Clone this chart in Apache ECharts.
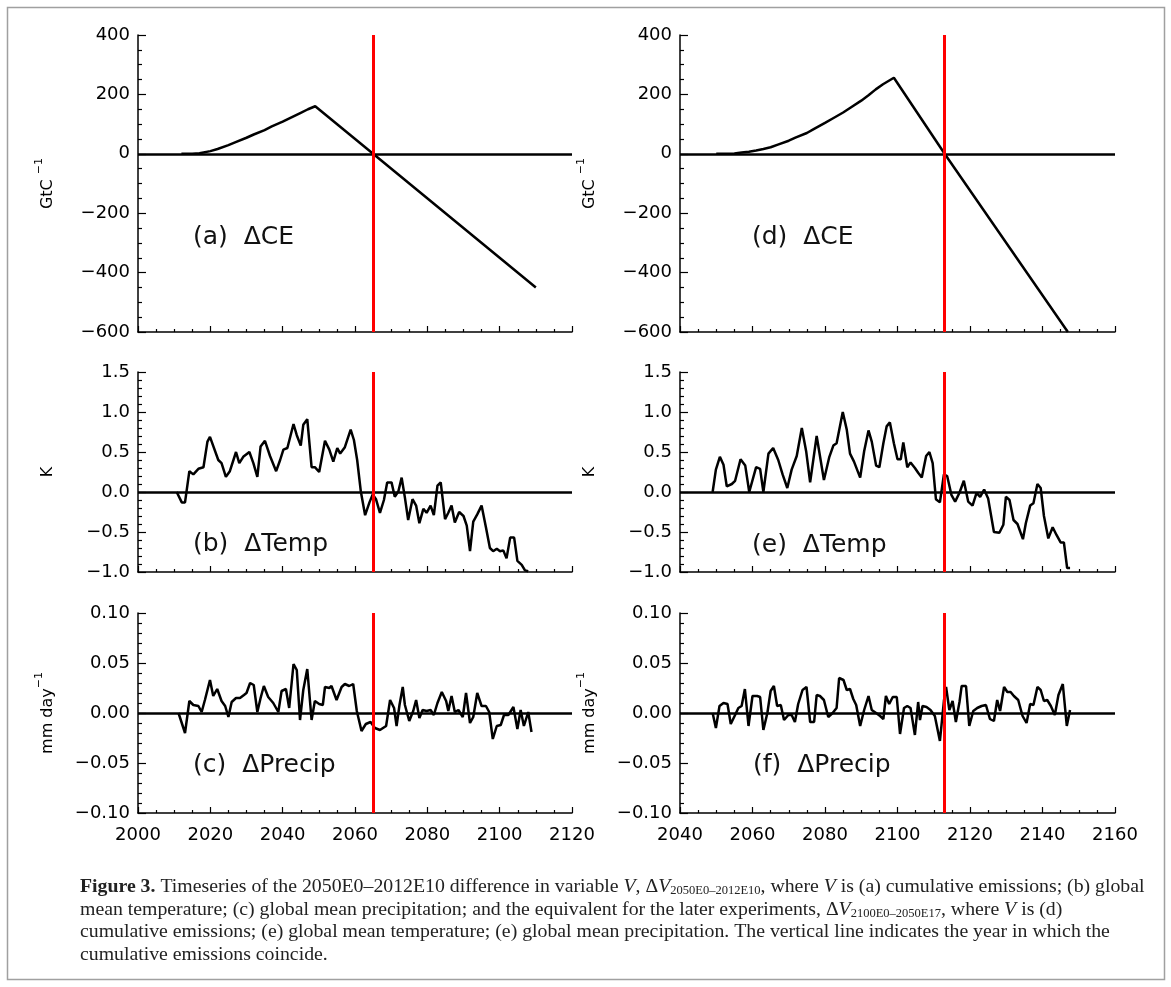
<!DOCTYPE html>
<html><head><meta charset="utf-8">
<script src="https://cdn.jsdelivr.net/npm/echarts@6/dist/echarts.min.js"></script>
<style>html,body{margin:0;padding:0;background:#fff}#c{width:1171px;height:987px}</style>
</head><body><div id="c"></div><script>
// ---- data ----
const ceA = [[2012,0],[2015,0],[2017,2],[2020,9],[2022,16],[2025,29],[2027,39],[2030,54],[2032,65],[2035,80],[2037,92],[2040,108],[2042,120],[2045,138],[2047,150],[2049,160],[2065,0],[2110,-450]];
const ceD = [[2050,0],[2053,0],[2055,1],[2057,4],[2059,7],[2061,11],[2063,16],[2065,22],[2067,31],[2070,44],[2072,55],[2075,70],[2077,84],[2080,104],[2082,118],[2085,139],[2087,155],[2090,179],[2092,197],[2094,217],[2096,234],[2099,256],[2113,0],[2147,-600]];
const tempB = [[2010.7,0],[2012.1,-0.13],[2013,-0.13],[2014.2,0.26],[2015.3,0.22],[2016.7,0.29],[2018.1,0.31],[2019.2,0.63],[2019.9,0.69],[2022.2,0.40],[2023.1,0.36],[2024.3,0.19],[2025.4,0.26],[2027.1,0.50],[2028,0.36],[2029.1,0.44],[2030.8,0.50],[2031.9,0.36],[2033,0.19],[2033.9,0.57],[2035.1,0.64],[2036.5,0.45],[2038.2,0.26],[2039.3,0.40],[2040.2,0.53],[2041.3,0.55],[2043,0.85],[2043.9,0.71],[2045,0.58],[2045.7,0.84],[2046.8,0.91],[2048,0.31],[2048.9,0.31],[2050.1,0.25],[2051.7,0.64],[2052.9,0.53],[2054,0.38],[2055.1,0.55],[2055.9,0.48],[2057.2,0.56],[2058.8,0.78],[2059.7,0.65],[2060.6,0.40],[2061.6,0.01],[2062.8,-0.29],[2064,-0.13],[2064.9,-0.03],[2065.8,-0.09],[2066.9,-0.26],[2068,-0.10],[2068.9,0.12],[2070.1,0.12],[2071,-0.06],[2072,0.01],[2072.9,0.18],[2073.8,-0.07],[2074.7,-0.35],[2075.9,-0.09],[2076.9,-0.17],[2077.8,-0.39],[2078.9,-0.21],[2079.8,-0.26],[2080.9,-0.17],[2081.8,-0.29],[2082.8,0.08],[2083.7,0.12],[2084.9,-0.34],[2085.8,-0.26],[2086.7,-0.17],[2087.6,-0.38],[2088.8,-0.25],[2090,-0.30],[2090.9,-0.42],[2091.8,-0.74],[2092.7,-0.37],[2093.8,-0.28],[2095,-0.17],[2096.2,-0.44],[2097.3,-0.70],[2098.2,-0.74],[2099.2,-0.71],[2100.1,-0.74],[2101,-0.73],[2101.9,-0.83],[2102.9,-0.57],[2104,-0.57],[2104.9,-0.86],[2106.1,-0.91],[2107,-0.98],[2107.9,-0.99]];
const precipC = [[2011.2,0],[2013,-0.020],[2014.2,0.012],[2015.3,0.008],[2016.7,0.007],[2017.6,0.001],[2018.5,0.013],[2019.9,0.033],[2020.8,0.017],[2021.9,0.024],[2023.1,0.012],[2024.1,0.007],[2025,-0.004],[2025.9,0.011],[2027.1,0.015],[2028.2,0.015],[2029.3,0.018],[2030,0.020],[2031,0.030],[2032,0.028],[2033,0.001],[2033.9,0.015],[2034.8,0.027],[2036,0.016],[2037.4,0.010],[2038.8,0.001],[2039.7,0.022],[2040.9,0.024],[2041.8,0.005],[2043,0.049],[2043.9,0.043],[2044.8,-0.007],[2045.7,0.023],[2046.8,0.044],[2048,-0.007],[2048.9,0.012],[2050.1,0.009],[2051.1,0.008],[2051.7,0.026],[2052.9,0.025],[2053.5,0.027],[2054.9,0.013],[2056.3,0.026],[2057.2,0.029],[2058.4,0.027],[2059.5,0.029],[2060.5,0.002],[2061.8,-0.018],[2063,-0.011],[2064.3,-0.009],[2065.5,-0.015],[2066.9,-0.017],[2068.6,-0.013],[2069.7,0.013],[2070.8,0.005],[2071.5,-0.013],[2072.3,0.008],[2073.2,0.026],[2073.8,0.008],[2075,-0.008],[2076.1,0.002],[2076.9,0.013],[2077.8,-0.005],[2078.7,0.003],[2079.8,0.002],[2080.9,0.003],[2081.8,-0.002],[2082.8,0.010],[2084,0.021],[2085.2,0.012],[2085.8,0.002],[2086.7,0.017],[2087.6,0.001],[2088.6,0.003],[2089.8,-0.004],[2090.7,0.020],[2091.8,-0.010],[2092.7,-0.004],[2093.8,0.020],[2095,0.007],[2096.2,0.007],[2097.1,0.001],[2098.1,-0.026],[2099.2,-0.013],[2100.3,-0.012],[2101.2,-0.002],[2102.4,-0.002],[2103.8,0.006],[2104.9,-0.016],[2105.8,0.003],[2106.7,-0.013],[2107.9,0.001],[2108.8,-0.019]];
const tempE = [[2049,0],[2049.9,0.28],[2051,0.44],[2052,0.34],[2052.9,0.07],[2054.3,0.10],[2055.2,0.14],[2056.7,0.41],[2058,0.33],[2059.1,0.0],[2061,0.31],[2062.1,0.29],[2063,0.0],[2064.4,0.48],[2065.7,0.55],[2067.1,0.40],[2068.3,0.22],[2069.6,0.05],[2070.8,0.28],[2072.2,0.45],[2073.6,0.80],[2074.8,0.51],[2075.9,0.12],[2077.7,0.70],[2079.7,0.15],[2081.2,0.44],[2082.3,0.58],[2083.2,0.61],[2084.9,1.00],[2086,0.78],[2086.9,0.48],[2088,0.38],[2089.7,0.18],[2090.8,0.51],[2092,0.77],[2092.9,0.63],[2094.1,0.33],[2095,0.31],[2096.1,0.61],[2097,0.82],[2097.9,0.87],[2099,0.61],[2100,0.41],[2100.9,0.41],[2101.6,0.62],[2102.7,0.31],[2103.6,0.37],[2104.8,0.30],[2105.7,0.24],[2106.7,0.18],[2107.9,0.45],[2108.8,0.50],[2109.7,0.36],[2110.6,-0.09],[2111.7,-0.13],[2112.8,0.22],[2113.7,0.20],[2114.9,-0.04],[2115.9,-0.12],[2117.1,-0.01],[2118.3,0.14],[2119.5,-0.12],[2120.7,-0.17],[2121.8,-0.01],[2122.8,-0.06],[2123.9,0.03],[2125,-0.08],[2126.6,-0.50],[2128.1,-0.51],[2129.2,-0.41],[2129.9,-0.06],[2130.9,-0.10],[2132,-0.35],[2133.1,-0.40],[2134.6,-0.59],[2135.4,-0.39],[2136.6,-0.17],[2137.5,-0.14],[2138.6,0.10],[2139.5,0.05],[2140.4,-0.30],[2141.6,-0.58],[2142.8,-0.44],[2143.9,-0.54],[2145,-0.63],[2145.9,-0.63],[2146.8,-0.95],[2147.6,-0.95]];
const precipF = [[2049,0],[2049.9,-0.015],[2050.9,0.007],[2052,0.010],[2053.1,0.009],[2054,-0.011],[2055.2,-0.002],[2056.1,0.005],[2057,0.007],[2057.9,0.024],[2058.9,-0.013],[2060,0.017],[2061.3,0.017],[2062.1,0.016],[2063,-0.017],[2064.1,0],[2065,0.022],[2065.9,0.027],[2066.8,0.007],[2067.8,0.008],[2068.7,-0.007],[2069.9,-0.002],[2070.8,-0.002],[2071.7,-0.009],[2072.6,0.009],[2073.8,0.023],[2074.9,0.026],[2075.9,-0.009],[2077,-0.009],[2077.7,0.018],[2078.6,0.017],[2079.7,0.013],[2080.9,-0.004],[2082.1,0],[2083.2,0.005],[2083.9,0.035],[2085.1,0.033],[2086,0.023],[2086.9,0.024],[2087.8,0.014],[2088.6,0.008],[2089.7,-0.013],[2090.8,0.003],[2092,0.017],[2092.9,0.003],[2094.1,0],[2095.2,-0.003],[2096.1,-0.006],[2096.8,0.017],[2097.7,0.009],[2098.7,0.016],[2099.8,0.016],[2100.7,-0.021],[2101.8,0.005],[2102.7,0.007],[2103.6,0.005],[2104.8,-0.022],[2105.7,0.011],[2106.2,-0.007],[2106.9,0.007],[2108,0.006],[2109.1,0.003],[2110.3,-0.003],[2111.7,-0.028],[2112.8,0.012],[2113.4,0.026],[2114.3,0.003],[2115.2,0.012],[2116.1,-0.009],[2117.1,0.011],[2117.7,0.027],[2118.9,0.027],[2119.8,-0.013],[2120.9,0.002],[2122,0.005],[2123.2,0.007],[2124.4,0.008],[2125.5,-0.006],[2126.6,-0.008],[2127.5,0.013],[2128.3,0.002],[2129.4,0.026],[2130.3,0.021],[2131.2,0.021],[2132.1,0.017],[2133.3,0.013],[2134.5,-0.003],[2135.6,-0.010],[2136.6,0.009],[2137.5,0.008],[2138.6,0.026],[2139.5,0.023],[2140.4,0.012],[2141.3,0.013],[2142.3,0.007],[2143.4,-0.002],[2144.4,0.018],[2145.6,0.029],[2146.7,-0.013],[2147.6,0.003]];

const coincideYears = [2065, 2113];           // vertical red lines (left, right column)
const xRanges = [[2000, 2120], [2040, 2160]];   // x-axis ranges (left, right column)
const yRanges = [[-600, 400, 200], [-1.0, 1.5, 0.5], [-0.10, 0.10, 0.05]];
const panelLabels = ['(a)  \u0394CE', '(b)  \u0394Temp', '(c)  \u0394Precip', '(d)  \u0394CE', '(e)  \u0394Temp', '(f)  \u0394Precip'];
const yNames = ['{n|GtC }{s|\u22121}', '{n|K}', '{n|mm day}{s|\u22121}'];

// ---- layout ----
const FONT = 'DejaVu Sans';
const colLeft = [138, 680], colWidth = [434, 435];
const rowTop = [35, 372, 613], rowHeight = [297, 200, 200];
const panels = [ceA, tempB, precipC, ceD, tempE, precipF];
const minorSplit = [4, 5, 5];
const decimals = [0, 1, 2];

const grid = [], xAxis = [], yAxis = [], series = [], graphic = [];
const fmt = (v, d) => { const s = Math.abs(v).toFixed(d); return (v < -1e-9 ? '\u2212' : '') + s; };

panels.forEach((data, i) => {
  const col = Math.floor(i / 3), row = i % 3;
  grid.push({ left: colLeft[col], top: rowTop[row], width: colWidth[col], height: rowHeight[row] });
  xAxis.push({
    type: 'value', gridIndex: i, min: xRanges[col][0], max: xRanges[col][1], interval: 20,
    axisLine: { show: true, onZero: false, lineStyle: { color: '#000', width: 1.5 } },
    axisTick: { show: true, inside: true, length: 6, lineStyle: { color: '#000', width: 1.2 } },
    minorTick: { show: true, splitNumber: 4, length: 3, lineStyle: { color: '#000', width: 1.2 } },
    splitLine: { show: false },
    axisLabel: { show: row === 2, color: '#000', fontSize: 18, fontFamily: FONT, margin: 13, formatter: v => String(Math.round(v)) }
  });
  const yr = yRanges[row];
  yAxis.push({
    type: 'value', gridIndex: i, min: yr[0], max: yr[1], interval: yr[2],
    axisLine: { show: true, onZero: false, lineStyle: { color: '#000', width: 1.5 } },
    axisTick: { show: true, inside: true, length: 8, lineStyle: { color: '#000', width: 1.2 } },
    minorTick: { show: true, splitNumber: minorSplit[row], length: 4, lineStyle: { color: '#000', width: 1.2 } },
    splitLine: { show: false },
    axisLabel: { color: '#000', fontSize: 18, fontFamily: FONT, margin: 8, formatter: v => fmt(v, decimals[row]) },
    name: yNames[row], nameLocation: 'middle', nameRotate: 90, nameGap: 82,
    nameTextStyle: { color: '#000', fontFamily: FONT, rich: {
      n: { fontSize: 16, fontFamily: FONT, color: '#000', verticalAlign: 'bottom', lineHeight: 22 },
      s: { fontSize: 11, fontFamily: FONT, color: '#000', verticalAlign: 'top', lineHeight: 22 }
    } }
  });
  series.push({
    type: 'line', xAxisIndex: i, yAxisIndex: i, data: data, showSymbol: false, symbol: 'none',
    lineStyle: { color: '#000', width: 2.5 }, z: 3, clip: true,
    markLine: {
      silent: true, symbol: ['none', 'none'], label: { show: false }, animation: false,
      data: [
        { yAxis: 0, lineStyle: { color: '#000', width: 2.5, type: 'solid' } },
        { xAxis: coincideYears[col], lineStyle: { color: '#ff0000', width: 3, type: 'solid' } }
      ]
    }
  });
});

const labelPos = [[193, 240], [193, 547], [193, 768], [752, 240], [752, 548], [753, 768]];
panelLabels.forEach((t, i) => {
  graphic.push({ type: 'text', left: labelPos[i][0], top: labelPos[i][1] - 15, z: 10,
    style: { text: t, font: '25px "DejaVu Sans"', fill: '#111' } });
});

// outer frame
graphic.push({ type: 'rect', shape: { x: 7.5, y: 7.5, width: 1157, height: 972 }, z: 0,
  style: { fill: 'none', stroke: '#a0a0a0', lineWidth: 1.5 } });

// caption
const CF = 'Liberation Serif', CS = 19.8;
const capRich = {
  b: { fontWeight: 'bold', fontFamily: CF, fontSize: CS, fill: '#222' },
  i: { fontStyle: 'italic', fontFamily: CF, fontSize: CS, fill: '#222' },
  s: { fontFamily: CF, fontSize: 12.5, fill: '#222', padding: [8, 0, 0, 0] }
};
const captionLines = [
  '{b|Figure 3.} Timeseries of the 2050E0\u20132012E10 difference in variable {i|V}, \u0394{i|V}{s|2050E0\u20132012E10}, where {i|V} is (a) cumulative emissions; (b) global',
  'mean temperature; (c) global mean precipitation; and the equivalent for the later experiments, \u0394{i|V}{s|2100E0\u20132050E17}, where {i|V} is (d)',
  'cumulative emissions; (e) global mean temperature; (e) global mean precipitation. The vertical line indicates the year in which the',
  'cumulative emissions coincide.'
];
captionLines.forEach((t, k) => {
  graphic.push({ type: 'text', left: 80, top: 877 + k * 22.5, z: 10,
    style: { text: t, fontFamily: CF, fontSize: CS, fill: '#222', rich: capRich } });
});

const chart = echarts.init(document.getElementById('c'), null, { renderer: 'canvas' });
chart.setOption({ animation: false, backgroundColor: '#fff', grid, xAxis, yAxis, series, graphic });
</script></body></html>
